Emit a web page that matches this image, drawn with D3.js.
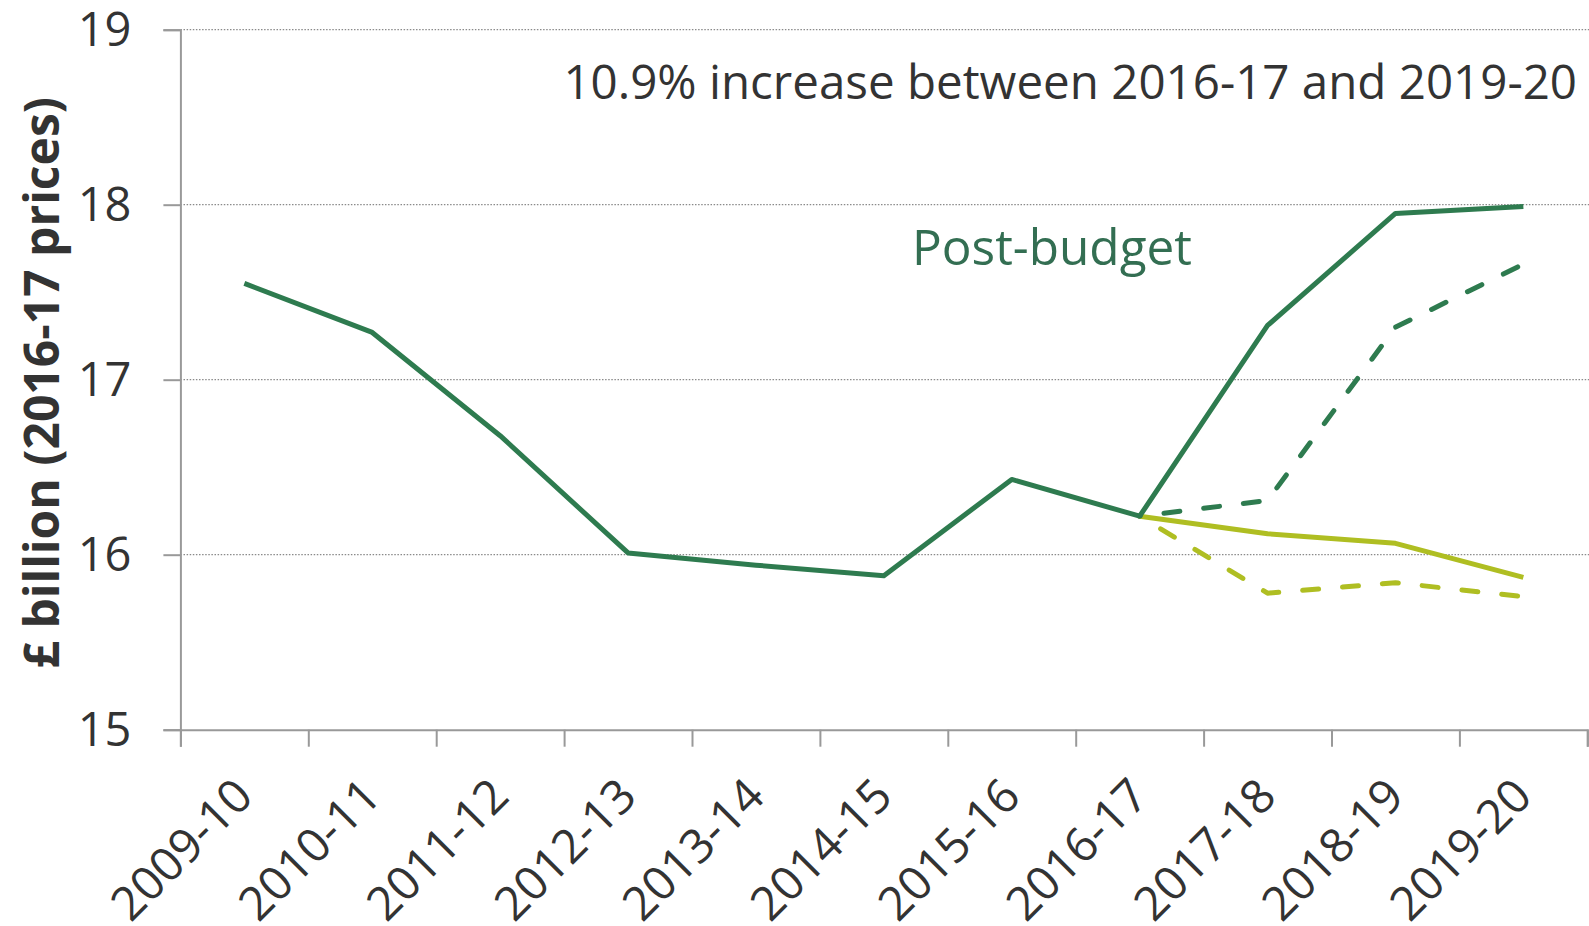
<!DOCTYPE html>
<html>
<head>
<meta charset="utf-8">
<script src="https://cdn.jsdelivr.net/npm/d3@7"></script>
<style>
    body { margin: 0; background: #fff; }
    svg { display: block; font-family: 'Open Sans', 'Noto Sans', sans-serif; }
</style>
</head>
<body>
<svg id="chart" width="1589" height="926"></svg>
<script>
// categories (financial years)
const years = ['2009-10', '2010-11', '2011-12', '2012-13', '2013-14', '2014-15', '2015-16', '2016-17', '2017-18', '2018-19', '2019-20'];

// outturn, up to 2016-17
const outturn = [17.55, 17.27, 16.68, 16.01, 15.94, 15.88, 16.43, 16.22];
// projections from 2016-17 on
const projYears = ['2016-17', '2017-18', '2018-19', '2019-20'];
const postBudget = [16.22, 17.31, 17.95, 17.99];
const postBudgetDashed = [16.22, 16.31, 17.30, 17.66];
const preBudget = [16.22, 16.12, 16.065, 15.87];
const preBudgetDashed = [16.22, 15.78, 15.84, 15.76];

const yTicks = [15, 16, 17, 18, 19];

const note = '10.9% increase between 2016-17 and 2019-20';
const seriesLabel = 'Post-budget';
const yTitle = '£ billion (2016-17 prices)';

const DARK = '#2e7b4f';
const LIGHT = '#afbe22';

const svg = d3.select('#chart');
const mLeft = 180.4, mRight = 1587.3, mTop = 29.7, mBottom = 729.7;

const x = d3.scaleBand().domain(years).range([mLeft, mRight]).padding(0);
const xEdge = d3.scaleLinear().domain([0, years.length]).range([mLeft, mRight]);
const y = d3.scaleLinear().domain([15, 19]).range([mBottom, mTop]);

// gridlines (dotted)
svg.append('g')
    .selectAll('line')
    .data(yTicks.filter((t) => t > 15))
    .join('line')
    .attr('x1', mLeft)
    .attr('x2', 1589)
    .attr('y1', (d) => y(d))
    .attr('y2', (d) => y(d))
    .attr('stroke', '#8a8a8a')
    .attr('stroke-width', 1.3)
    .attr('stroke-dasharray', '1.5,1.6');

// y axis
const yAxis = svg.append('g')
    .attr('transform', `translate(${mLeft},0)`)
    .call(d3.axisLeft(y).tickValues(yTicks).tickSize(17).tickPadding(32).tickFormat(d3.format('d')));
yAxis.select('.domain').attr('stroke', '#999').attr('stroke-width', 2);
yAxis.selectAll('.tick line').attr('stroke', '#999').attr('stroke-width', 2);
yAxis.selectAll('.tick text')
    .attr('font-family', "'Open Sans', sans-serif")
    .attr('font-size', 47)
    .attr('fill', '#333')
    .attr('dy', '0.33em');

// x axis, ticks on category edges
const xAxis = svg.append('g')
    .attr('transform', `translate(0,${mBottom})`)
    .call(d3.axisBottom(xEdge).tickValues(d3.range(years.length + 1)).tickSize(17).tickFormat(''));
xAxis.select('.domain').attr('stroke', '#999').attr('stroke-width', 2);
xAxis.selectAll('.tick line').attr('stroke', '#999').attr('stroke-width', 2);

// rotated category labels
svg.append('g')
    .selectAll('text')
    .data(years)
    .join('text')
    .attr('transform', (d) => `translate(${x(d) + x.bandwidth() / 2 + 11},${mBottom + 69}) rotate(-45)`)
    .attr('text-anchor', 'end')
    .attr('font-size', 47)
    .attr('fill', '#333')
    .text((d) => d);

// y title
svg.append('text')
    .attr('transform', `translate(59,${(mTop + mBottom) / 2 + 3}) rotate(-90)`)
    .attr('text-anchor', 'middle')
    .attr('font-size', 48)
    .attr('font-weight', 'bold')
    .attr('fill', '#333')
    .text(yTitle);

// lines
const line = d3.line()
    .x((d) => x(d.year) + x.bandwidth() / 2)
    .y((d) => y(d.value));

const zip = (ys, vs) => ys.map((yr, i) => ({ year: yr, value: vs[i] }));

const lines = [
    { data: zip(projYears, preBudgetDashed), color: LIGHT, dashed: true },
    { data: zip(projYears, preBudget), color: LIGHT, dashed: false },
    { data: zip(projYears, postBudgetDashed), color: DARK, dashed: true },
    { data: zip(years.slice(0, outturn.length), outturn), color: DARK, dashed: false },
    { data: zip(projYears, postBudget), color: DARK, dashed: false },
];

svg.append('g')
    .selectAll('path')
    .data(lines)
    .join('path')
    .attr('d', (d) => line(d.data))
    .attr('fill', 'none')
    .attr('stroke', (d) => d.color)
    .attr('stroke-width', 5)
    .attr('stroke-linejoin', 'round')
    .attr('stroke-linecap', (d) => (d.dashed ? 'round' : 'butt'))
    .attr('stroke-dasharray', (d) => (d.dashed ? '16,24' : null))
    .attr('stroke-dashoffset', (d) => (d.dashed ? -24.5 : null));

// annotations
svg.append('text')
    .attr('x', 1577)
    .attr('y', 99)
    .attr('text-anchor', 'end')
    .attr('font-size', 47.5)
    .attr('fill', '#333')
    .text(note);

svg.append('text')
    .attr('x', 912)
    .attr('y', 265)
    .attr('font-size', 49.5)
    .attr('fill', '#336e52')
    .text(seriesLabel);
</script>
</body>
</html>
